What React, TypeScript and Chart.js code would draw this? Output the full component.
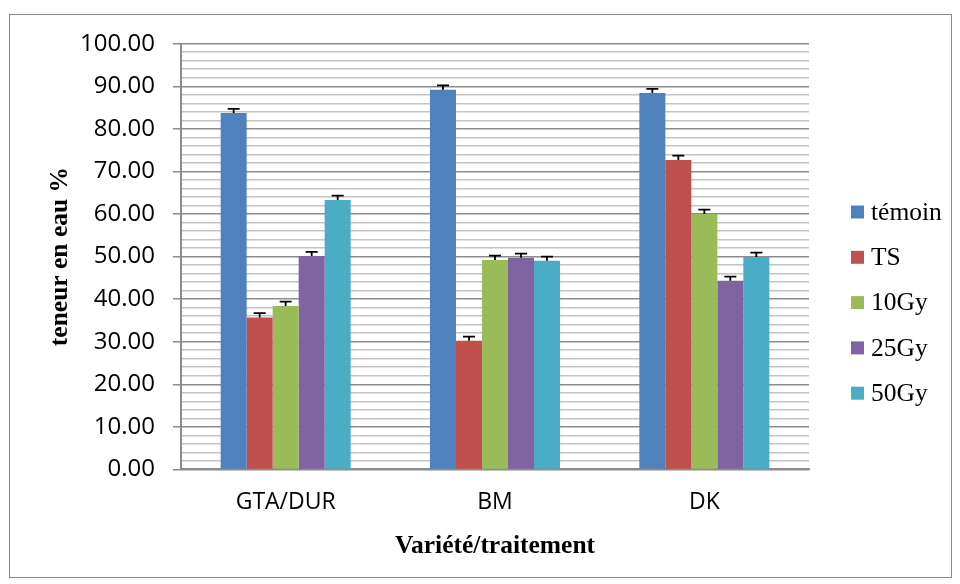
import React, { useEffect, useRef } from "react";
import { Chart, registerables } from "chart.js";

Chart.register(...registerables);

const categories = ["GTA/DUR", "BM", "DK"];
const seriesNames = ["témoin", "TS", "10Gy", "25Gy", "50Gy"];
const seriesColors = ["#4F81BD", "#C0504D", "#9BBB59", "#8064A2", "#4BACC6"];
const temoin = [83.7, 89.2, 88.4];
const ts = [35.7, 30.2, 72.7];
const gy10 = [38.4, 49.2, 60.0];
const gy25 = [50.1, 49.7, 44.3];
const gy50 = [63.3, 49.0, 49.9];
const errTemoin = [1.0, 1.0, 1.0];
const errTs = [1.0, 1.0, 1.0];
const errGy10 = [1.0, 1.0, 1.0];
const errGy25 = [1.0, 1.0, 1.0];
const errGy50 = [1.0, 1.0, 1.0];
const yTitle = "teneur en eau %";
const xTitle = "Variété/traitement";

const seriesValues = [temoin, ts, gy10, gy25, gy50];
const seriesErrors = [errTemoin, errTs, errGy10, errGy25, errGy50];

const errorBarsPlugin = {
  id: "errorBars",
  afterDatasetsDraw(chart: any) {
    const ctx = chart.ctx;
    const yScale = chart.scales.y;
    ctx.save();
    ctx.strokeStyle = "#000";
    ctx.lineWidth = 1.8;
    chart.data.datasets.forEach((ds: any, i: number) => {
      const meta = chart.getDatasetMeta(i);
      meta.data.forEach((bar: any, j: number) => {
        const v = ds.data[j];
        const e = ds.errors[j];
        const yTop = yScale.getPixelForValue(v + e);
        const yBar = yScale.getPixelForValue(v);
        ctx.beginPath();
        ctx.moveTo(bar.x, yBar);
        ctx.lineTo(bar.x, yTop);
        ctx.moveTo(bar.x - 6, yTop);
        ctx.lineTo(bar.x + 6, yTop);
        ctx.stroke();
      });
    });
    ctx.restore();
  },
};

const decorPlugin = {
  id: "decor",
  afterDraw(chart: any) {
    const ctx = chart.ctx;
    const area = chart.chartArea;
    ctx.save();
    // outer frame
    ctx.strokeStyle = "#8c8c8c";
    ctx.lineWidth = 1;
    ctx.strokeRect(9.5, 14.5, 942, 563);
    // legend
    ctx.font = "25.5px 'Liberation Serif'";
    ctx.textBaseline = "middle";
    ctx.textAlign = "left";
    chart.data.datasets.forEach((ds: any, i: number) => {
      const cy = 212 + i * 45.3;
      ctx.fillStyle = ds.backgroundColor;
      ctx.fillRect(851, cy - 6.5, 13, 13);
      ctx.fillStyle = "#000";
      ctx.fillText(ds.label, 871, cy + 1);
    });
    // axis titles
    ctx.font = "bold 25.5px 'Liberation Serif'";
    ctx.textAlign = "center";
    ctx.fillStyle = "#000";
    ctx.fillText(xTitle, (area.left + area.right) / 2, 546);
    ctx.translate(60, (area.top + area.bottom) / 2);
    ctx.rotate(-Math.PI / 2);
    ctx.fillText(yTitle, 0, 0);
    ctx.restore();
  },
};

export default function App() {
  const ref = useRef<HTMLCanvasElement | null>(null);
  useEffect(() => {
    if (!ref.current) return;
    const chart = new Chart(ref.current, {
      type: "bar",
      data: {
        labels: categories,
        datasets: seriesNames.map((name, i) => ({
          label: name,
          data: seriesValues[i],
          errors: seriesErrors[i],
          backgroundColor: seriesColors[i],
          borderWidth: 0,
          barPercentage: 1,
          categoryPercentage: 0.621,
        })) as any,
      },
      options: {
        responsive: false,
        devicePixelRatio: 1,
        animation: false,
        layout: { padding: { top: 43.7, right: 151, left: 0, bottom: 0 } },
        plugins: { legend: { display: false }, tooltip: { enabled: false } },
        scales: {
          x: {
            grid: { display: false, drawTicks: false },
            border: { display: true, color: "#8c8c8c", width: 2 },
            ticks: {
              color: "#000",
              font: { family: "'Open Sans'", size: 23 },
              padding: 19,
            },
            afterFit: (s: any) => {
              s.height = 584 - 469.4;
            },
          },
          y: {
            min: 0,
            max: 100,
            grid: {
              color: (c: any) => (c.tick && c.tick.value % 10 === 0 ? "#8c8c8c" : "#c4c4c4"),
              lineWidth: 1.5,
              tickLength: 8,
              tickColor: (c: any) => (c.tick && c.tick.value % 10 === 0 ? "#8c8c8c" : "rgba(0,0,0,0)"),
            },
            border: { display: true, color: "#8c8c8c", width: 2 },
            ticks: {
              stepSize: 2,
              autoSkip: false,
              color: "#000",
              font: { family: "'Open Sans'", size: 24 },
              padding: 18,
              callback: (v: any) => (Number(v) % 10 === 0 ? Number(v).toFixed(2) : ""),
            },
            afterFit: (s: any) => {
              s.width = 181;
            },
          },
        },
      },
      plugins: [errorBarsPlugin, decorPlugin],
    });
    return () => chart.destroy();
  }, []);
  return (
    <div style={{ position: "absolute", left: 0, top: 0, width: 960, height: 584, background: "#fff" }}>
      <canvas ref={ref} width={960} height={584} />
    </div>
  );
}
